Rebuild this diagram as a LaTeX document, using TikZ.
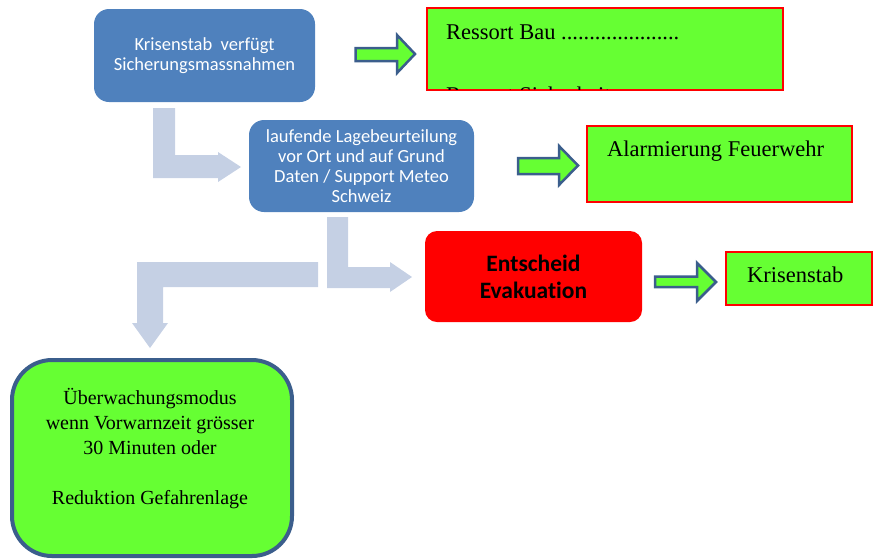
\documentclass[tikz,border=0pt]{standalone}
\usepackage{fontspec}
\setmainfont{Liberation Serif}
\newfontfamily\carlito[Ligatures={NoCommon}]{Carlito}
\definecolor{boxblue}{RGB}{79,129,189}
\definecolor{flowgray}{RGB}{197,208,228}
\definecolor{darkblue}{RGB}{59,94,140}
\definecolor{lgreen}{RGB}{102,255,51}
\begin{document}
\begin{tikzpicture}[x=1pt,y=-1pt,
  bluebox/.style={draw=none, fill=boxblue, rounded corners=15pt, text=white,
    font=\carlito\fontsize{18.5}{20}\selectfont, align=center, inner sep=0pt},
  greenbox/.style={draw=red, line width=1.2pt, fill=lgreen, inner sep=0pt},
  flow/.style={fill=flowgray, draw=none},
  blockarrow/.style={fill=lgreen, draw=darkblue, line width=2.5pt, line join=miter},
  serif/.style={font=\fontsize{22.5}{26}\selectfont, inner sep=0pt, anchor=base west}]
\useasboundingbox (0,0) rectangle (873,558);

% blue process boxes
\node[bluebox, minimum width=221pt, minimum height=93pt] (krisen) at (204.5,55.5)
  {Krisenstab\ \ verfügt\\Sicherungsmassnahmen};
\node[bluebox, minimum width=225pt, minimum height=92pt] (lage) at (361.5,166)
  {laufende Lagebeurteilung\\vor Ort und auf Grund\\Daten / Support Meteo\\Schweiz};

% red decision box
\node[fill=red, draw=none, rounded corners=12pt, minimum width=217pt, minimum height=91pt,
  inner sep=0pt, align=center, font=\carlito\bfseries\fontsize{23.5}{27}\selectfont]
  (evak) at (533.5,276.5) {Entscheid\\Evakuation};

% green boxes
\node[greenbox, minimum width=356pt, minimum height=82pt] (bau) at (605,49) {};
\node[serif] (bautext) at (446,39) {Ressort Bau .....................};
\begin{scope}
  \clip (428,9) rectangle (782,89.2);
  \node[serif] (sichertext) at (446,102.5) {Ressort Sicherheit};
\end{scope}

\node[greenbox, minimum width=265pt, minimum height=76pt] (feuer) at (719.5,164) {};
\node[serif] (feuertext) at (607,156) {Alarmierung Feuerwehr};

\node[greenbox, minimum width=146pt, minimum height=53pt] (stab) at (799,278.5) {};
\node[serif] (stabtext) at (747,282) {Krisenstab};

% bottom box
\node[draw=darkblue, line width=4pt, fill=lgreen, rounded corners=40pt,
  minimum width=280pt, minimum height=196pt, inner sep=0pt] (ueber) at (152,458) {};
\node[anchor=north, inner sep=0pt, align=center, font=\fontsize{20}{25}\selectfont]
  (uebertext) at (150,388)
  {Überwachungsmodus\\wenn Vorwarnzeit grösser\\30 Minuten oder\\[25pt]Reduktion Gefahrenlage};

% light flow arrows
\fill[flow] (153,108) -- (175,108) -- (175,155) -- (218,155) -- (218,152) -- (241,167)
  -- (218,182) -- (218,178) -- (153,178) -- cycle;
\fill[flow] (327,217) -- (348,217) -- (348,267) -- (390,267) -- (390,262) -- (412,277)
  -- (390,292) -- (390,288) -- (327,288) -- cycle;
\fill[flow] (318,262) -- (137,262) -- (137,323) -- (132,323) -- (150,348) -- (168,323)
  -- (163,323) -- (163,287) -- (318,287) -- cycle;

% green block arrows
\draw[blockarrow] (355.5,48) -- (397,48) -- (397,35) -- (415,54) -- (397,73) -- (397,61)
  -- (355.5,61) -- cycle;
\draw[blockarrow] (518,158) -- (559,158) -- (559,146) -- (578,165.5) -- (559,185)
  -- (559,174) -- (518,174) -- cycle;
\draw[blockarrow] (655,276.5) -- (697,276.5) -- (697,263) -- (716,282) -- (697,301)
  -- (697,287) -- (655,287) -- cycle;
\end{tikzpicture}
\end{document}
